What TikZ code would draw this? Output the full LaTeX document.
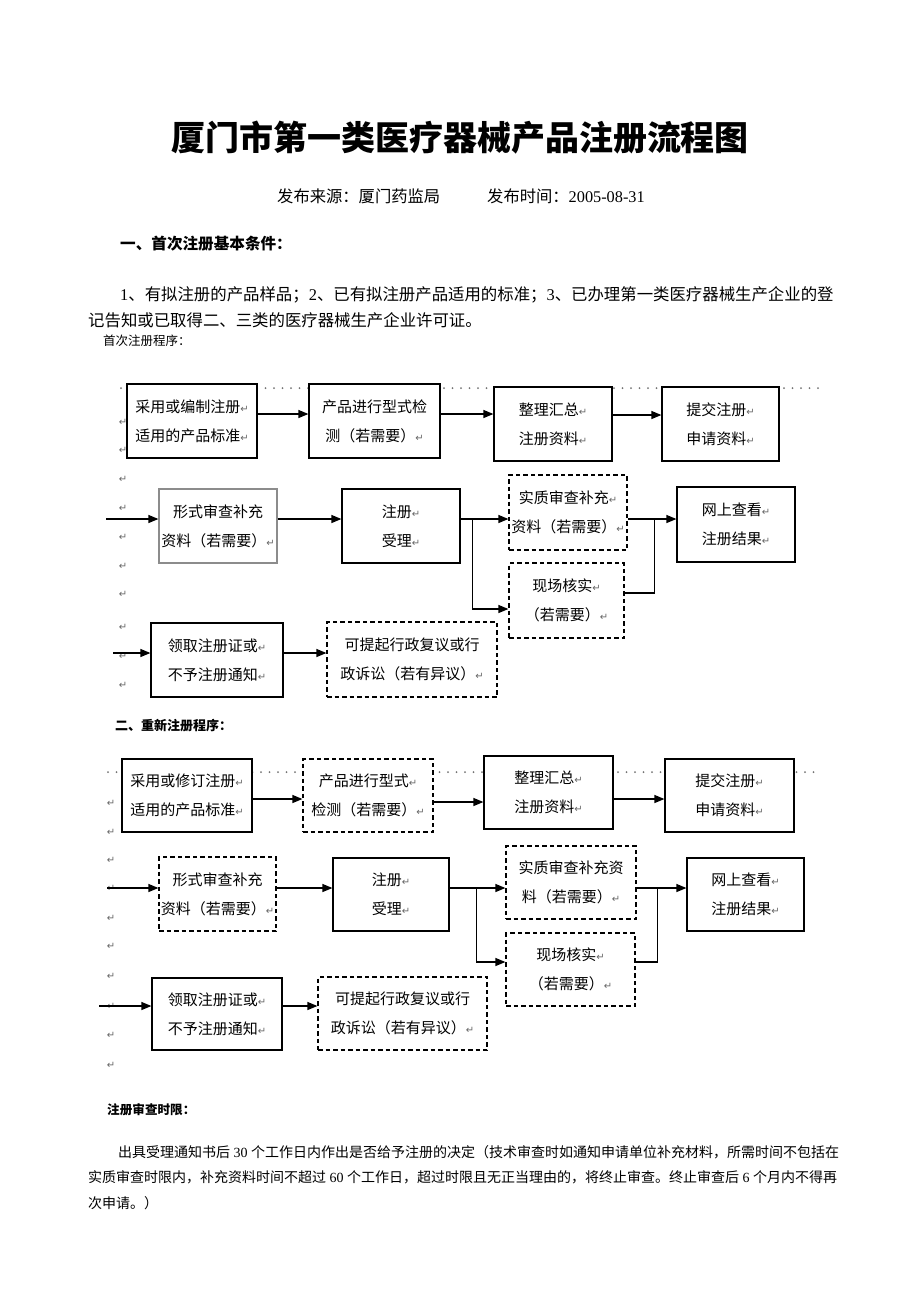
\documentclass[tikz,border=0pt]{standalone}
\usepackage{fontspec}
\setmainfont{Noto Sans CJK SC}
\newfontfamily\numfont{Liberation Serif}
\newfontfamily\retfont{DejaVu Sans}
\usepackage{tikz}
\usetikzlibrary{shapes,arrows.meta}
\newcommand{\ret}{{\retfont\fontsize{10}{10}\selectfont\color{black!60}↵}}
\newcommand{\num}[1]{{\numfont #1}}
\tikzstyle{box} = [draw, line width=1.2pt, fill=white, inner sep=0pt, align=center, font=\fontsize{15}{29}\selectfont]
\tikzstyle{dbox} = [box, dash pattern=on 4.5pt off 3pt]
\tikzstyle{flow} = [line width=1.2pt, -{Triangle[length=10pt,width=8pt]}]
\tikzstyle{link} = [line width=1.2pt]
\tikzstyle{canvas} = [black!55, line width=2pt, line cap=round, dash pattern=on 0pt off 8.5pt]
\tikzstyle{retmark} = [inner sep=0pt]
\tikzstyle{words} = [anchor=west, inner sep=0pt]

\begin{document}
\begin{tikzpicture}[x=1pt,y=-1pt]
	\fill[white] (0,0) rectangle (920,1302);
	\useasboundingbox (0,0) rectangle (920,1302);
	% page text
	\node[font=\fontsize{34}{34}\selectfont\bfseries] (title) at (460,138) {厦门市第一类医疗器械产品注册流程图};
	\node[words, font=\fontsize{16.3}{16.3}\selectfont] (source) at (277,196) {发布来源：厦门药监局};
	\node[words, font=\fontsize{16.3}{16.3}\selectfont] (date) at (487,196) {发布时间：\num{2005-08-31}};
	\node[words, font=\fontsize{15.6}{15.6}\selectfont\bfseries] (cond) at (120,244) {一、首次注册基本条件：};
	\node[words, font=\fontsize{16.4}{16.4}\selectfont] (condA) at (120,295) {\num{1}、有拟注册的产品样品；\num{2}、已有拟注册产品适用的标准；\num{3}、已办理第一类医疗器械生产企业的登};
	\node[words, font=\fontsize{16.4}{16.4}\selectfont] (condB) at (88,320) {记告知或已取得二、三类的医疗器械生产企业许可证。};
	\node[words, font=\fontsize{12.5}{12.5}\selectfont] (proc1) at (103,341) {首次注册程序：};
	\node[words, font=\fontsize{13}{13}\selectfont\bfseries] (proc2) at (115,726) {二、重新注册程序：};
	\node[words, font=\fontsize{12.6}{12.6}\selectfont\bfseries] (limit) at (107,1110) {注册审查时限：};
	\node[words, font=\fontsize{14}{14}\selectfont] (limitA) at (118,1152) {出具受理通知书后\num{\ 30\ }个工作日内作出是否给予注册的决定（技术审查时如通知申请单位补充材料，所需时间不包括在};
	\node[words, font=\fontsize{14}{14}\selectfont] (limitB) at (88,1177) {实质审查时限内，补充资料时间不超过\num{\ 60\ }个工作日，超过时限且无正当理由的，将终止审查。终止审查后\num{\ 6\ }个月内不得再};
	\node[words, font=\fontsize{14}{14}\selectfont] (limitC) at (88,1203) {次申请。）};

	% first registration
	\draw[canvas] (121,388) -- (823,388);
	\foreach \y [count=\i] in {422,450,479,508,537,566,594,627,656,685}
		\node[retmark] (ma-\i) at (123,\y) {\ret};
	\node[box, minimum width=130pt, minimum height=74pt] (std1) at (192,421) {采用或编制注册\ret\\适用的产品标准\ret};
	\node[box, minimum width=131pt, minimum height=74pt] (test1) at (374.5,421) {产品进行型式检\\测（若需要）\ret};
	\node[box, minimum width=118pt, minimum height=74pt] (sum1) at (553,424) {整理汇总\ret\\注册资料\ret};
	\node[box, minimum width=117pt, minimum height=74pt] (sub1) at (720.5,424) {提交注册\ret\\申请资料\ret};
	\node[box, draw=black!45, minimum width=118pt, minimum height=74pt] (fchk1) at (218,526) {形式审查补充\\资料（若需要）\ret};
	\node[box, minimum width=118pt, minimum height=74pt] (acc1) at (401,526) {注册\ret\\受理\ret};
	\node[dbox, minimum width=118pt, minimum height=75pt] (tchk1) at (568,512.5) {实质审查补充\ret\\资料（若需要）\ret};
	\node[dbox, minimum width=115pt, minimum height=75pt] (site1) at (566.5,600.5) {现场核实\ret\\（若需要）\ret};
	\node[box, minimum width=118pt, minimum height=75pt] (web1) at (736,524.5) {网上查看\ret\\注册结果\ret};
	\node[box, minimum width=132pt, minimum height=74pt] (cert1) at (217,660) {领取注册证或\ret\\不予注册通知\ret};
	\node[dbox, minimum width=170pt, minimum height=75pt] (appeal1) at (412,659.5) {可提起行政复议或行\\政诉讼（若有异议）\ret};
	\coordinate (in1) at (106,519);
	\coordinate (in2) at (113,653);
	\draw[flow] ([yshift=7pt]std1.east) -- ([yshift=7pt]std1.east -| test1.west);
	\draw[flow] ([yshift=7pt]test1.east) -- ([yshift=7pt]test1.east -| sum1.west);
	\draw[flow] ([yshift=9pt]sum1.east) -- ([yshift=9pt]sum1.east -| sub1.west);
	\draw[flow] (in1) -- (in1 -| fchk1.west);
	\draw[flow] ([yshift=7pt]fchk1.east) -- ([yshift=7pt]fchk1.east -| acc1.west);
	\draw[flow] ([yshift=7pt]acc1.east) -- ([yshift=7pt]acc1.east -| tchk1.west);
	\draw[flow] ([yshift=7pt,xshift=12pt]acc1.east) |- ([yshift=-8.5pt]site1.west);
	\draw[flow] ([yshift=-6.5pt]tchk1.east) -- ([yshift=-6.5pt]tchk1.east -| web1.west);
	\draw[link] ([yshift=7.5pt]site1.east) -| ([yshift=-6.5pt,xshift=27pt]tchk1.east);
	\draw[flow] (in2) -- (in2 -| cert1.west);
	\draw[flow] ([yshift=7pt]cert1.east) -- ([yshift=7pt]cert1.east -| appeal1.west);

	% re-registration
	\draw[canvas] (108,772) -- (818,772);
	\foreach \y [count=\i] in {803,832,860,888,918,946,976,1006,1035,1065}
		\node[retmark] (mb-\i) at (111,\y) {\ret};
	\node[box, minimum width=130pt, minimum height=73pt] (std2) at (187,795.5) {采用或修订注册\ret\\适用的产品标准\ret};
	\node[dbox, minimum width=130pt, minimum height=73pt] (test2) at (368,795.5) {产品进行型式\ret\\检测（若需要）\ret};
	\node[box, minimum width=129pt, minimum height=73pt] (sum2) at (548.5,792.5) {整理汇总\ret\\注册资料\ret};
	\node[box, minimum width=129pt, minimum height=73pt] (sub2) at (729.5,795.5) {提交注册\ret\\申请资料\ret};
	\node[dbox, minimum width=117pt, minimum height=74pt] (fchk2) at (217.5,894) {形式审查补充\\资料（若需要）\ret};
	\node[box, minimum width=116pt, minimum height=73pt] (acc2) at (391,894.5) {注册\ret\\受理\ret};
	\node[dbox, minimum width=130pt, minimum height=73pt] (tchk2) at (571,882.5) {实质审查补充资\\料（若需要）\ret};
	\node[dbox, minimum width=129pt, minimum height=73pt] (site2) at (570.5,969.5) {现场核实\ret\\（若需要）\ret};
	\node[box, minimum width=117pt, minimum height=73pt] (web2) at (745.5,894.5) {网上查看\ret\\注册结果\ret};
	\node[box, minimum width=130pt, minimum height=72pt] (cert2) at (217,1014) {领取注册证或\ret\\不予注册通知\ret};
	\node[dbox, minimum width=169pt, minimum height=73pt] (appeal2) at (402.5,1013.5) {可提起行政复议或行\\政诉讼（若有异议）\ret};
	\coordinate (in3) at (107,888);
	\coordinate (in4) at (99,1006);
	\draw[flow] ([yshift=-3.5pt]std2.east) -- ([yshift=-3.5pt]std2.east -| test2.west);
	\draw[flow] ([yshift=-6.5pt]test2.east) -- ([yshift=-6.5pt]test2.east -| sum2.west);
	\draw[flow] ([yshift=-6.5pt]sum2.east) -- ([yshift=-6.5pt]sum2.east -| sub2.west);
	\draw[flow] (in3) -- (in3 -| fchk2.west);
	\draw[flow] ([yshift=6pt]fchk2.east) -- ([yshift=6pt]fchk2.east -| acc2.west);
	\draw[flow] ([yshift=6.5pt]acc2.east) -- ([yshift=6.5pt]acc2.east -| tchk2.west);
	\draw[flow] ([yshift=6.5pt,xshift=27pt]acc2.east) |- ([yshift=7.5pt]site2.west);
	\draw[flow] ([yshift=-5.5pt]tchk2.east) -- ([yshift=-5.5pt]tchk2.east -| web2.west);
	\draw[link] ([yshift=7.5pt]site2.east) -| ([yshift=-5.5pt,xshift=21pt]tchk2.east);
	\draw[flow] (in4) -- (in4 -| cert2.west);
	\draw[flow] ([yshift=8pt]cert2.east) -- ([yshift=8pt]cert2.east -| appeal2.west);
\end{tikzpicture}
\end{document}
